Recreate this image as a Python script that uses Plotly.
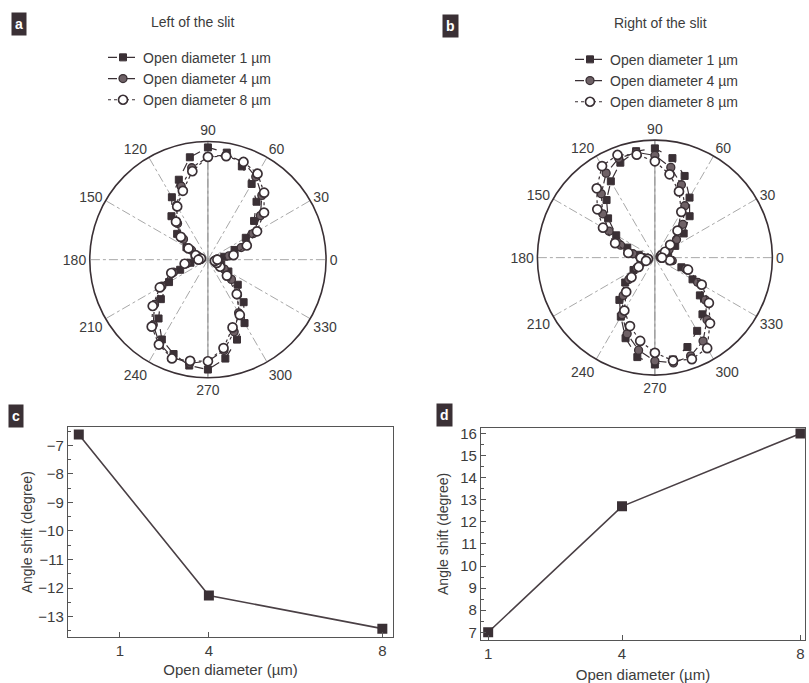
import plotly.graph_objects as go

# ---------------- data ----------------
theta_deg = list(range(0, 360, 10))
angle_ticks = list(range(0, 360, 30))
angle_labels = [str(a) for a in angle_ticks]

series_names = ["Open diameter 1 µm", "Open diameter 4 µm", "Open diameter 8 µm"]

# normalised intensity, left of the slit (panel a)
left_1um = [0.08, 0.14, 0.24, 0.37, 0.51, 0.64, 0.74, 0.84, 0.92, 0.95, 0.88, 0.72,
            0.61, 0.48, 0.34, 0.21, 0.12, 0.07, 0.07, 0.15, 0.25, 0.38, 0.52, 0.65,
            0.78, 0.85, 0.91, 0.93, 0.85, 0.72, 0.62, 0.47, 0.33, 0.20, 0.12, 0.08]
left_4um = [0.07, 0.18, 0.30, 0.44, 0.58, 0.71, 0.81, 0.88, 0.90, 0.87, 0.79, 0.66,
            0.53, 0.40, 0.27, 0.16, 0.09, 0.06, 0.07, 0.18, 0.31, 0.45, 0.59, 0.72,
            0.82, 0.88, 0.89, 0.86, 0.78, 0.65, 0.52, 0.39, 0.26, 0.16, 0.09, 0.06]
left_8um = [0.08, 0.22, 0.35, 0.48, 0.62, 0.74, 0.84, 0.88, 0.89, 0.87, 0.76, 0.62,
            0.52, 0.42, 0.30, 0.19, 0.11, 0.06, 0.08, 0.20, 0.33, 0.47, 0.61, 0.74,
            0.83, 0.89, 0.87, 0.86, 0.76, 0.61, 0.54, 0.38, 0.21, 0.12, 0.08, 0.06]

# normalised intensity, right of the slit (panel b)
right_1um = [0.06, 0.07, 0.12, 0.20, 0.32, 0.46, 0.59, 0.74, 0.86, 0.93, 0.92, 0.86,
             0.75, 0.64, 0.52, 0.38, 0.25, 0.14, 0.08, 0.08, 0.13, 0.21, 0.33, 0.47,
             0.58, 0.73, 0.86, 0.91, 0.88, 0.81, 0.72, 0.63, 0.50, 0.37, 0.24, 0.13]
right_4um = [0.06, 0.05, 0.08, 0.14, 0.24, 0.37, 0.51, 0.66, 0.78, 0.87, 0.91, 0.90,
             0.83, 0.71, 0.58, 0.45, 0.31, 0.19, 0.10, 0.06, 0.10, 0.18, 0.29, 0.42,
             0.56, 0.69, 0.80, 0.88, 0.91, 0.89, 0.82, 0.69, 0.56, 0.42, 0.28, 0.15]
right_8um = [0.06, 0.05, 0.06, 0.10, 0.17, 0.30, 0.45, 0.60, 0.72, 0.82, 0.89, 0.93,
             0.90, 0.77, 0.64, 0.51, 0.36, 0.23, 0.12, 0.06, 0.08, 0.16, 0.26, 0.38,
             0.52, 0.62, 0.72, 0.81, 0.89, 0.92, 0.89, 0.73, 0.60, 0.46, 0.30, 0.13]

# angle shift vs open diameter (panels c, d)
diameter_c = [1, 4, 8]
shift_left = [-6.62, -12.26, -13.42]
diameter_d = [1, 4, 8]
shift_right = [7.0, 12.7, 16.0]
tick_pos_c = [1.95, 4, 8]
tick_text_c = ["1", "4", "8"]
tick_pos_d = [1, 4, 8]
tick_text_d = ["1", "4", "8"]

# ---------------- style ----------------
DARK = "#3a3035"
INK = "#3c3c3c"
FONT = "Liberation Sans, Arial, sans-serif"

styles = [
    dict(marker=dict(symbol="square", size=7, color=DARK, line=dict(color=DARK, width=1)),
         line=dict(color=DARK, width=1.2, dash="dash")),
    dict(marker=dict(symbol="circle", size=8, color="#6e6166", line=dict(color=DARK, width=1.3)),
         line=dict(color=DARK, width=1.2, dash="dashdot")),
    dict(marker=dict(symbol="circle", size=9, color="white", line=dict(color=DARK, width=1.7)),
         line=dict(color=DARK, width=1.2, dash="dot")),
]

fig = go.Figure()

panels = [
    ("polar", "legend", [left_1um, left_4um, left_8um]),
    ("polar2", "legend2", [right_1um, right_4um, right_8um]),
]

for subplot, leg, series in panels:
    # solid vertical reference line (90-270)
    fig.add_trace(go.Scatterpolar(r=[1, 0, 1], theta=[90, 90, 270], mode="lines",
                                  line=dict(color="#8a8a8a", width=1),
                                  subplot=subplot, showlegend=False, hoverinfo="skip"))
    for name, vals, st in zip(series_names, series, styles):
        fig.add_trace(go.Scatterpolar(
            r=vals + vals[:1], theta=theta_deg + [360], mode="lines+markers",
            name=name, subplot=subplot, legend=leg,
            marker=st["marker"], line=st["line"]))

fig.add_trace(go.Scatter(x=diameter_c, y=shift_left, mode="lines+markers",
                         xaxis="x", yaxis="y", showlegend=False,
                         line=dict(color="#4a4045", width=1.6),
                         marker=dict(symbol="square", size=10, color=DARK)))
fig.add_trace(go.Scatter(x=diameter_d, y=shift_right, mode="lines+markers",
                         xaxis="x2", yaxis="y2", showlegend=False,
                         line=dict(color="#4a4045", width=1.6),
                         marker=dict(symbol="square", size=10, color=DARK)))


def polar_layout(dx, dy):
    return dict(
        domain=dict(x=dx, y=dy), bgcolor="white",
        radialaxis=dict(visible=False, range=[0, 1]),
        angularaxis=dict(rotation=0, direction="counterclockwise",
                         tickvals=angle_ticks, ticktext=angle_labels, ticks="",
                         showline=True, linecolor=DARK, linewidth=1.6,
                         showgrid=True, gridcolor="#a8a8a8", griddash="dashdot", gridwidth=1,
                         tickfont=dict(family=FONT, size=14, color=INK)),
    )


def cart_axis(**kw):
    d = dict(showline=True, mirror=True, linecolor="#555", linewidth=1.3,
             ticks="inside", ticklen=5, tickcolor="#555", showgrid=False, zeroline=False,
             tickfont=dict(family=FONT, size=15, color=INK))
    d.update(kw)
    return d


legend_common = dict(bgcolor="rgba(0,0,0,0)", font=dict(family=FONT, size=14, color=INK),
                     xanchor="left", yanchor="top", tracegroupgap=0, itemwidth=30)

fig.update_layout(
    width=809, height=683, margin=dict(l=0, r=0, t=0, b=0),
    paper_bgcolor="white", plot_bgcolor="white",
    font=dict(family=FONT, color=INK),
    polar=polar_layout([0.110, 0.404], [0.448, 0.796]),
    polar2=polar_layout([0.664, 0.955], [0.452, 0.798]),
    legend=dict(x=103 / 809, y=1 - 39 / 683, **legend_common),
    legend2=dict(x=570 / 809, y=1 - 41 / 683, **legend_common),
    xaxis=cart_axis(domain=[0.084, 0.486], anchor="y", range=[0.75, 8.25],
                    tickvals=tick_pos_c, ticktext=tick_text_c,
                    title=dict(text="Open diameter (µm)", standoff=6,
                               font=dict(family=FONT, size=15, color=INK))),
    yaxis=cart_axis(domain=[0.066, 0.375], anchor="x", range=[-13.72, -6.37],
                    tick0=-13, dtick=1,
                    minor=dict(dtick=0.5, ticks="inside", ticklen=3, tickcolor="#555"),
                    title=dict(text="Angle shift (degree)", standoff=2,
                               font=dict(family=FONT, size=14, color=INK))),
    xaxis2=cart_axis(domain=[0.5946, 0.995], anchor="y2", range=[0.84, 8.1],
                     tickvals=tick_pos_d, ticktext=tick_text_d,
                     title=dict(text="Open diameter (µm)", standoff=10,
                                font=dict(family=FONT, size=15, color=INK))),
    yaxis2=cart_axis(domain=[0.0615, 0.3748], anchor="x2", range=[6.64, 16.27],
                     tick0=7, dtick=1,
                     minor=dict(dtick=0.5, ticks="inside", ticklen=3, tickcolor="#555"),
                     title=dict(text="Angle shift (degree)", standoff=8,
                                font=dict(family=FONT, size=14, color=INK))),
)

# panel titles
for txt, xc, yc in [("Left of the slit", 192, 19), ("Right of the slit", 660, 20)]:
    fig.add_annotation(text=txt, x=xc / 809, y=1 - yc / 683, xref="paper", yref="paper",
                       showarrow=False, font=dict(family=FONT, size=14, color=INK),
                       xanchor="center", yanchor="middle")

# panel letters
for txt, xc, yc in [("a", 19, 21), ("b", 450, 23), ("c", 16, 415), ("d", 445, 414)]:
    fig.add_annotation(text="<b>" + txt + "</b>", x=xc / 809, y=1 - yc / 683,
                       xref="paper", yref="paper", showarrow=False,
                       font=dict(family="Liberation Sans, Arial", size=14, color="white"),
                       bgcolor="#3a3035", borderpad=3, xanchor="center", yanchor="middle")

fig.write_html("out.html", config={"displayModeBar": False},
               post_script="document.body.style.margin='0';")
